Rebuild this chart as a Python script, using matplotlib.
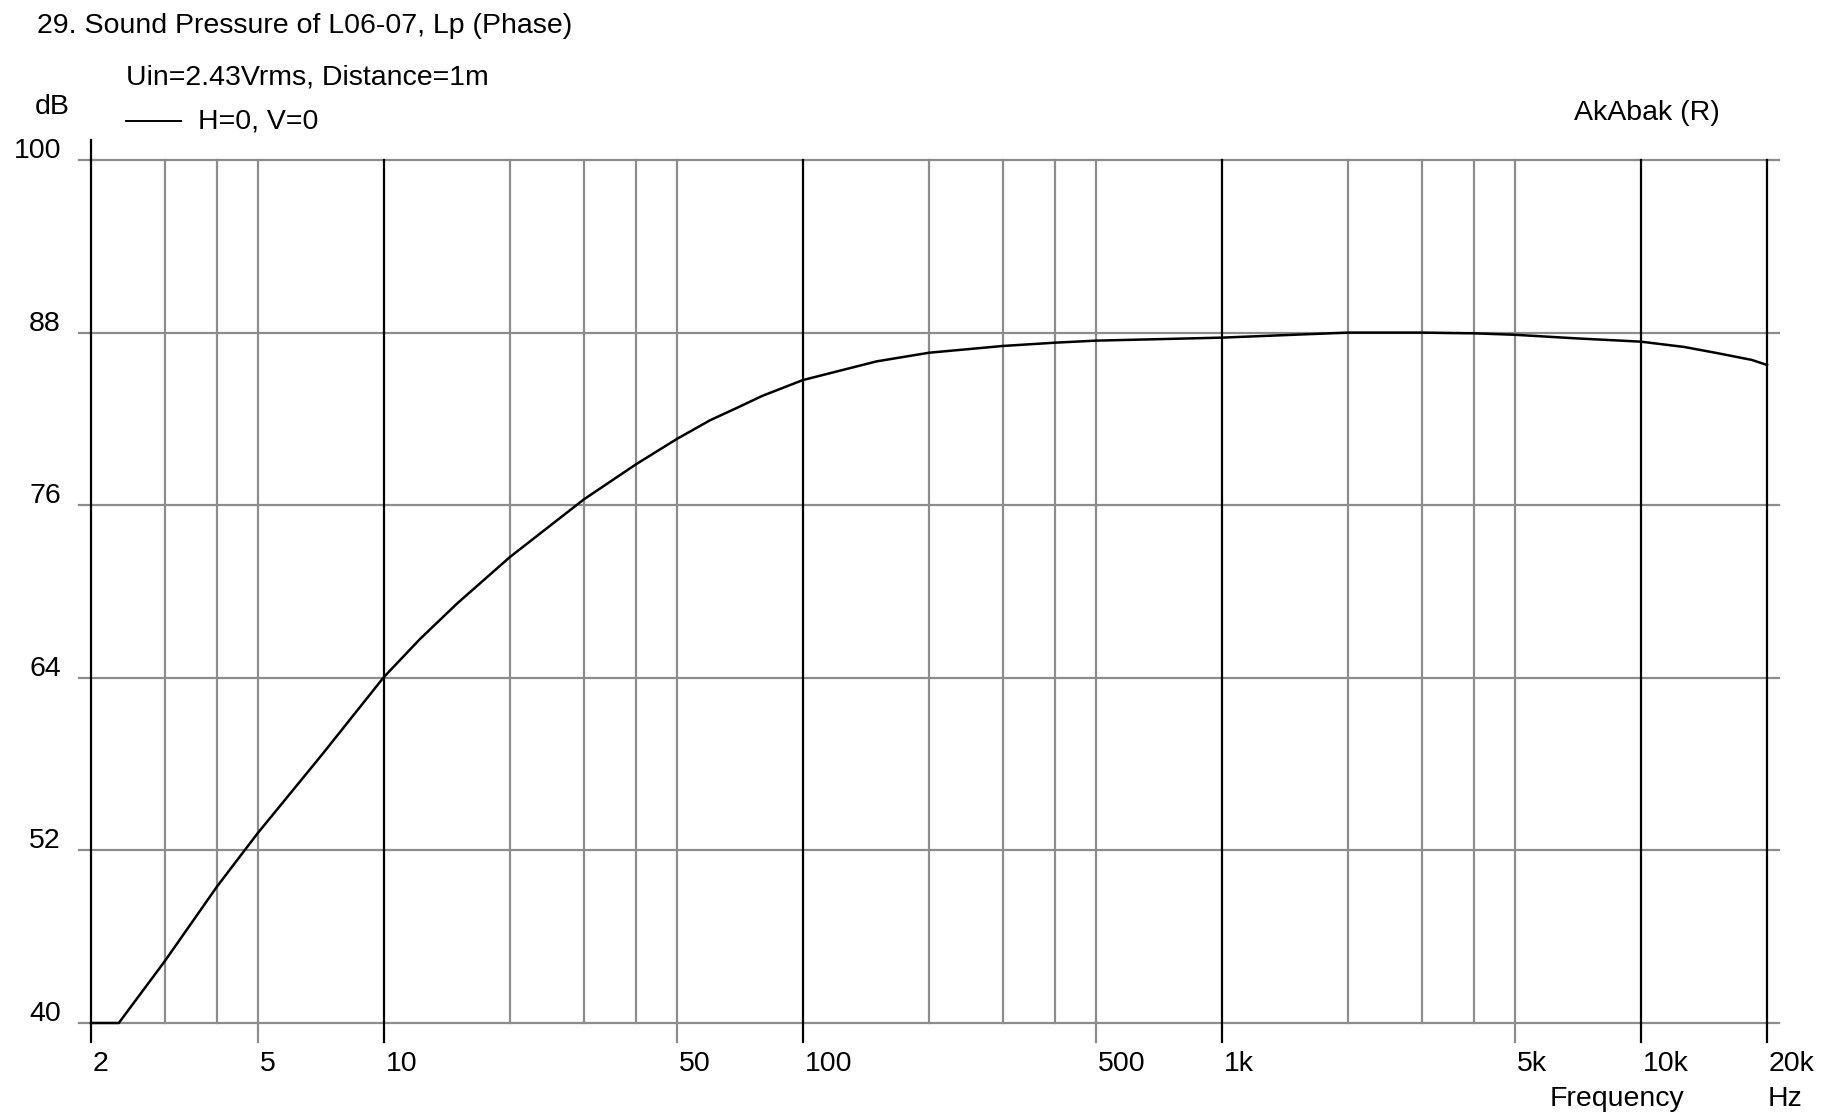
import matplotlib
matplotlib.use("Agg")
import matplotlib.pyplot as plt
from matplotlib import font_manager

W, H = 1829, 1117

# curve (Hz, dB)
freq = [2.0, 2.33, 3, 4, 5, 7.16, 10, 12.2, 15, 20, 30, 40, 50, 60, 70, 80,
        100, 150, 200, 300, 400, 500, 1000, 2000, 3000, 4000, 5000, 7000, 10000,
        12700, 15300, 18400, 20000]
spl = [40.0, 40.0, 44.3, 49.5, 53.2, 58.75, 64.05, 66.7, 69.2, 72.4, 76.4, 78.85,
       80.6, 81.9, 82.8, 83.6, 84.7, 86.0, 86.6, 87.07, 87.3, 87.44, 87.65, 88.0,
       88.0, 87.95, 87.85, 87.6, 87.37, 87.0, 86.56, 86.1, 85.75]

db_ticks = [40, 52, 64, 76, 88, 100]
major_lines = [2, 10, 100, 1000, 10000, 20000]
minor_lines = [3, 4, 5, 20, 30, 40, 50, 200, 300, 400, 500, 2000, 3000, 4000, 5000]
tick_pos = [2, 5, 10, 50, 100, 500, 1000, 5000, 10000, 20000]
tick_labels = ['2', '5', '10', '50', '100', '500', '1k', '5k', '10k', '20k']

names = {f.name for f in font_manager.fontManager.ttflist}
FONT = 'Liberation Sans Narrow' if 'Liberation Sans Narrow' in names else 'Liberation Sans'
plt.rcParams['font.family'] = [FONT, 'DejaVu Sans']
FS = 20.5

fig = plt.figure(figsize=(W / 100, H / 100), dpi=100)
left, right, top, bottom = 91, 1767, 160, 1023
ax = fig.add_axes([left / W, 1 - bottom / H, (right - left) / W, (bottom - top) / H])
ax.set_xscale('log')
ax.set_xlim(2, 20000)
ax.set_ylim(40, 100)
for s in ax.spines.values():
    s.set_visible(False)
ax.set_xticks([])
ax.set_yticks([])
ax.minorticks_off()

GRAY = '#8c8c8c'
ext_x = 12 / (right - left)
ext_down = 19 / (bottom - top)
ext_up = 20 / (bottom - top)

for v in db_ticks:
    ax.axhline(v, xmin=-ext_x, xmax=1 + ext_x, color=GRAY, lw=1.6, clip_on=False, zorder=1)

for f in minor_lines:
    lo = -ext_down if f in tick_pos else 0
    ax.axvline(f, ymin=lo, ymax=1, color=GRAY, lw=1.6, clip_on=False, zorder=1)

for f in major_lines:
    lo = -ext_down if f in tick_pos else 0
    hi = 1 + ext_up if f == 2 else 1
    ax.axvline(f, ymin=lo, ymax=hi, color='black', lw=1.6, clip_on=False, zorder=2)

ax.plot(freq, spl, color='black', lw=1.8, zorder=3, clip_on=False)


def px(x, y):
    return x / W, 1 - y / H


# y tick labels
for v in db_ticks:
    yp = top + (100 - v) / 60 * (bottom - top) - 9
    fig.text(*px(61, yp), str(v), ha='right', va='center', fontsize=FS)

# x tick labels
for f, lab in zip(tick_pos, tick_labels):
    xd = ax.transData.transform((f, 40))[0]
    fig.text(xd / W + 2 / W, 1 - 1064 / H, lab, ha='left', va='center', fontsize=FS)

fig.text(*px(37, 26), '29. Sound Pressure of L06-07, Lp (Phase)', ha='left', va='center', fontsize=FS)
fig.text(*px(126, 78), 'Uin=2.43Vrms, Distance=1m', ha='left', va='center', fontsize=FS)
fig.text(*px(35, 107), 'dB', ha='left', va='center', fontsize=FS)
fig.add_artist(plt.Line2D([126 / W, 181 / W], [1 - 121 / H, 1 - 121 / H], color='black', lw=1.4))
fig.text(*px(198, 121), 'H=0, V=0', ha='left', va='center', fontsize=FS)
fig.text(*px(1720, 113), 'AkAbak (R)', ha='right', va='center', fontsize=FS)
fig.text(*px(1684, 1099), 'Frequency', ha='right', va='center', fontsize=FS)
fig.text(*px(1768, 1099), 'Hz', ha='left', va='center', fontsize=FS)

fig.savefig('out.png', dpi=100, facecolor='white')
